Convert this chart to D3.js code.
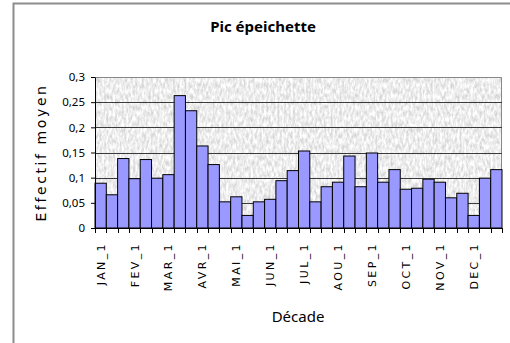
<!DOCTYPE html>
<html>
<head>
<meta charset="utf-8">
<script src="https://cdn.jsdelivr.net/npm/d3@7/dist/d3.min.js"></script>
<style>
  html, body { margin: 0; padding: 0; background: #fff; }
  svg { display: block; }
</style>
</head>
<body>
<svg id="chart" width="510" height="343"></svg>
<script>
// Décades (3 per month), mean counts per décade
const months = ["JAN", "FEV", "MAR", "AVR", "MAI", "JUN", "JUL", "AOU", "SEP", "OCT", "NOV", "DEC"];
const decades = months.flatMap(m => [m + "_1", m + "_2", m + "_3"]);
const effectif = [
  0.089, 0.066, 0.138, 0.098, 0.136, 0.099,
  0.106, 0.263, 0.233, 0.163, 0.126, 0.052,
  0.062, 0.025, 0.052, 0.057, 0.094, 0.114,
  0.153, 0.052, 0.082, 0.091, 0.143, 0.082,
  0.149, 0.091, 0.116, 0.077, 0.079, 0.097,
  0.091, 0.060, 0.069, 0.025, 0.099, 0.116
];
const yTicks = [0, 0.05, 0.1, 0.15, 0.2, 0.25, 0.3];
const yTickLabels = ["0", "0,05", "0,1", "0,15", "0,2", "0,25", "0,3"];

const svg = d3.select("#chart");
const plot = { left: 95, right: 502, top: 77, bottom: 228 };

// light granite texture for the plot background
const defs = svg.append("defs");
const f = defs.append("filter").attr("id", "granite")
  .attr("x", 0).attr("y", 0).attr("width", 1).attr("height", 1)
  .attr("color-interpolation-filters", "sRGB");
f.append("feTurbulence").attr("type", "fractalNoise")
  .attr("baseFrequency", "0.45 0.18").attr("numOctaves", 3).attr("seed", 11).attr("result", "n");
f.append("feColorMatrix").attr("in", "n").attr("type", "matrix")
  .attr("values", "0.32 0 0 0 0.77  0.32 0 0 0 0.77  0.32 0 0 0 0.77  0 0 0 0 1");

// outer chart frame
svg.append("path")
  .attr("d", "M13.5,343 V3.5 H510")
  .attr("fill", "none").attr("stroke", "#8c8c8c").attr("stroke-width", 2);

const x = d3.scaleBand().domain(decades).range([plot.left, plot.right]).padding(0);
const y = d3.scaleLinear().domain([0, 0.3]).range([plot.bottom, plot.top]);

// plot area background
svg.append("rect")
  .attr("x", plot.left).attr("y", plot.top)
  .attr("width", plot.right - plot.left).attr("height", plot.bottom - plot.top)
  .attr("fill", "#ebebeb").attr("filter", "url(#granite)");

// plot frame (top and right edges)
svg.append("path")
  .attr("d", `M${plot.left},${plot.top + 0.5} H${plot.right - 0.5} V${plot.bottom}`)
  .attr("fill", "none").attr("stroke", "#888").attr("stroke-width", 1);

// horizontal gridlines
svg.append("g").selectAll("line")
  .data(yTicks.filter(v => v > 0 && v < 0.3))
  .join("line")
  .attr("x1", plot.left).attr("x2", plot.right)
  .attr("y1", d => Math.round(y(d)) + 0.5).attr("y2", d => Math.round(y(d)) + 0.5)
  .attr("stroke", "#3a3a3a").attr("stroke-width", 1);

// bars
svg.append("g").selectAll("rect")
  .data(effectif)
  .join("rect")
  .attr("x", (d, i) => x(decades[i]))
  .attr("y", d => y(d))
  .attr("width", x.bandwidth())
  .attr("height", d => plot.bottom - y(d))
  .attr("fill", "#9999ff")
  .attr("stroke", "#000").attr("stroke-width", 1);

// y axis
const yAxis = d3.axisLeft(y).tickValues(yTicks)
  .tickFormat((d, i) => yTickLabels[i]).tickSize(4).tickSizeOuter(0);
const gy = svg.append("g").attr("transform", `translate(${plot.left},0)`).call(yAxis);
gy.select(".domain").attr("stroke", "#000");
gy.selectAll(".tick line").attr("stroke", "#000");
gy.selectAll(".tick text")
  .attr("x", -10)
  .style("font-family", "'Noto Sans', 'DejaVu Sans', sans-serif")
  .style("font-size", "11.5px").attr("fill", "#000");

// x axis: ticks at every band boundary, label every third décade
const gx = svg.append("g").attr("transform", `translate(0,${plot.bottom})`);
gx.append("line").attr("x1", plot.left).attr("x2", plot.right)
  .attr("y1", 0.5).attr("y2", 0.5).attr("stroke", "#000");
const bounds = decades.map(d => x(d)).concat([plot.right]);
gx.selectAll("line.tk").data(bounds).join("line").attr("class", "tk")
  .attr("x1", d => Math.round(d) + 0.5).attr("x2", d => Math.round(d) + 0.5)
  .attr("y1", 0).attr("y2", 5).attr("stroke", "#000");
gx.selectAll("text").data(decades.filter((d, i) => i % 3 === 0)).join("text")
  .attr("transform", d => `translate(${x(d) + x.bandwidth() / 2 + 4},${14}) rotate(-90)`)
  .attr("text-anchor", "end")
  .style("font-family", "'DejaVu Sans', Verdana, sans-serif")
  .style("font-size", "11px").style("letter-spacing", "2.4px")
  .attr("fill", "#000")
  .text(d => d);

// title and axis titles
svg.append("text").attr("x", 263).attr("y", 32).attr("text-anchor", "middle")
  .style("font-family", "'Noto Sans', 'DejaVu Sans', sans-serif")
  .style("font-size", "15px").style("font-weight", "bold").attr("fill", "#000")
  .text("Pic épeichette");

svg.append("text").attr("x", 298).attr("y", 322).attr("text-anchor", "middle")
  .style("font-family", "'Noto Sans', 'DejaVu Sans', sans-serif")
  .style("font-size", "15px").attr("fill", "#000")
  .text("Décade");

svg.append("text")
  .attr("transform", `translate(46,${(plot.top + plot.bottom) / 2}) rotate(-90)`)
  .attr("text-anchor", "middle")
  .style("font-family", "'DejaVu Sans', Verdana, sans-serif")
  .style("font-size", "14px").style("letter-spacing", "2.6px").attr("fill", "#000")
  .text("Effectif moyen");
</script>
</body>
</html>
